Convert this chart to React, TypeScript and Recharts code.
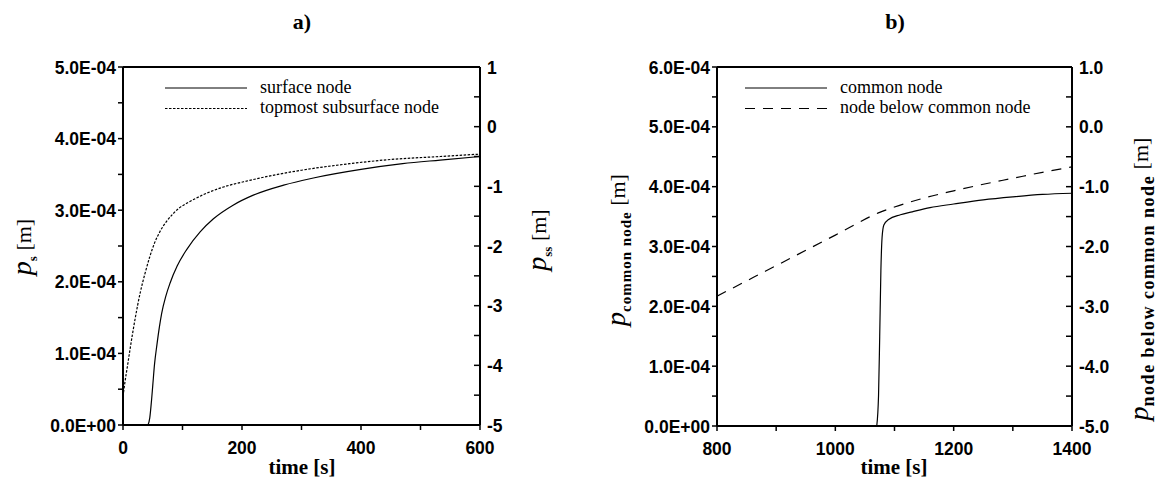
import React from 'react'
import { LineChart, Line, XAxis, YAxis, Legend, ReferenceLine } from 'recharts'

// a) surface node, pressure head p_s [m] (left axis)
const surfaceTime = [42, 45, 48, 50, 53, 57, 61, 65, 72, 79, 91, 107, 130, 152, 185, 219, 270, 320, 400, 470, 533, 600]
const surfaceHead = [0, 0.1e-4, 0.35e-4, 0.55e-4, 0.85e-4, 1.12e-4, 1.36e-4, 1.56e-4, 1.8e-4, 1.98e-4, 2.22e-4, 2.45e-4, 2.7e-4, 2.88e-4, 3.07e-4, 3.21e-4, 3.35e-4, 3.45e-4, 3.57e-4, 3.65e-4, 3.7e-4, 3.75e-4]

// a) topmost subsurface node, p_ss [m] (right axis)
const subTime = [0, 3, 8, 12, 20, 29, 37, 45, 53, 62, 73, 84, 95, 108, 135, 163, 213, 260, 300, 381, 450, 533, 600]
const subHead = [-4.52, -4.3, -3.98, -3.72, -3.24, -2.78, -2.46, -2.18, -1.95, -1.76, -1.59, -1.46, -1.36, -1.28, -1.14, -1.03, -0.9, -0.8, -0.73, -0.62, -0.55, -0.5, -0.46]

// b) common node (left axis)
const commonTime = [1070, 1073, 1075, 1077, 1079, 1082, 1090, 1110, 1130, 1160, 1200, 1250, 1300, 1350, 1400]
const commonHead = [0, 0.5e-4, 1.5e-4, 2.6e-4, 3.15e-4, 3.36e-4, 3.45e-4, 3.53e-4, 3.58e-4, 3.65e-4, 3.71e-4, 3.78e-4, 3.83e-4, 3.87e-4, 3.89e-4]

// b) node below common node (right axis)
const belowTime = [800, 900, 1000, 1075, 1100, 1150, 1200, 1250, 1300, 1350, 1400]
const belowHead = [-2.83, -2.32, -1.81, -1.43, -1.34, -1.19, -1.07, -0.96, -0.86, -0.76, -0.67]

// ticks (minor ones get a tick mark only)
const ticksTimeA = [0, 100, 200, 300, 400, 500, 600]
const ticksTimeB = [800, 900, 1000, 1100, 1200, 1300, 1400]
const ticksHeadA = [0, 0.5e-4, 1e-4, 1.5e-4, 2e-4, 2.5e-4, 3e-4, 3.5e-4, 4e-4, 4.5e-4, 5e-4]
const ticksHeadB = [0, 0.5e-4, 1e-4, 1.5e-4, 2e-4, 2.5e-4, 3e-4, 3.5e-4, 4e-4, 4.5e-4, 5e-4, 5.5e-4, 6e-4]
const ticksRight = [-5, -4.5, -4, -3.5, -3, -2.5, -2, -1.5, -1, -0.5, 0, 0.5, 1]

const legendA = [
  { name: 'surface node', dash: undefined },
  { name: 'topmost subsurface node', dash: '2.5 1.5' },
]
const legendB = [
  { name: 'common node', dash: undefined },
  { name: 'node below common node', dash: '10 8' },
]

const toPts = (ts: number[], vs: number[]) => ts.map((t, i) => ({ t, v: vs[i] }))

const sans = '"Liberation Sans", Arial, sans-serif'
const serif = '"Liberation Serif", "Times New Roman", serif'
const tickSize = 17.5

const isMajor = (v: number, step: number) => Math.abs(v / step - Math.round(v / step)) < 1e-6

const sci = (v: number) => {
  if (v === 0) return '0.0E+00'
  const e = Math.floor(Math.log10(Math.abs(v)) + 1e-9)
  const m = v / Math.pow(10, e)
  const ee = String(Math.abs(e)).padStart(2, '0')
  return `${m.toFixed(1)}E${e < 0 ? '-' : '+'}${ee}`
}

const LeftTick = (p: any) => {
  const v = p.payload.value
  if (!isMajor(v, 1e-4)) return <g />
  return (
    <text x={p.x} y={p.y} dy="0.38em" textAnchor="end" fontFamily={sans} fontWeight={700} fontSize={tickSize} fill="#000">
      {sci(v)}
    </text>
  )
}

const BottomTick = (p: any) => {
  const v = p.payload.value
  if (!isMajor(v, 200)) return <g />
  return (
    <text x={p.x} y={p.y} dy="0.71em" textAnchor="middle" fontFamily={sans} fontWeight={700} fontSize={tickSize} fill="#000">
      {v}
    </text>
  )
}

const rightTick = (digits: number) => (p: any) => {
  const v = p.payload.value
  return (
    <g>
      <line x1={p.x - 7} x2={p.x - 13} y1={p.y} y2={p.y} stroke="#000" strokeWidth={1.5} />
      {isMajor(v, 1) && (
        <text x={p.x} y={p.y} dy="0.38em" textAnchor="start" fontFamily={sans} fontWeight={700} fontSize={tickSize} fill="#000">
          {v.toFixed(digits)}
        </text>
      )}
    </g>
  )
}

const LegendBox = ({ items }: { items: { name: string; dash?: string }[] }) => (
  <svg width={330} height={48}>
    {items.map((it, i) => (
      <g key={it.name}>
        <line x1={5} x2={87} y1={12 + i * 20.5} y2={12 + i * 20.5} stroke="#000" strokeWidth={1} strokeDasharray={it.dash} />
        <text x={100} y={17 + i * 20} fontFamily={serif} fontSize={18} fill="#000">
          {it.name}
        </text>
      </g>
    ))}
  </svg>
)

const axisLine = { stroke: '#000', strokeWidth: 2 }
const tickLine = { stroke: '#000', strokeWidth: 1.5 }

function Panel({ width, leftW, rightW, xH, xTicks, xDomain, yTicks, yDomain, rightDigits, solid, dashed, dash, legend }: any) {
  return (
    <LineChart width={width} height={481} margin={{ top: 67, right: 0, bottom: 0, left: 0 }}>
      <XAxis dataKey="t" type="number" domain={xDomain} ticks={xTicks} interval={0} allowDataOverflow
        height={xH} tickSize={5} tickMargin={12} axisLine={axisLine} tickLine={tickLine} tick={BottomTick} />
      <YAxis yAxisId="left" type="number" domain={yDomain} ticks={yTicks} interval={0} allowDataOverflow
        width={leftW} tickSize={5} tickMargin={2} axisLine={axisLine} tickLine={tickLine} tick={LeftTick} />
      <YAxis yAxisId="right" orientation="right" type="number" domain={[-5, 1]} ticks={ticksRight} interval={0}
        allowDataOverflow width={rightW} tickSize={0} tickMargin={7} axisLine={axisLine} tickLine={false}
        tick={rightTick(rightDigits)} />
      <ReferenceLine yAxisId="left" y={yDomain[1]} stroke="#000" strokeWidth={2} />
      <Legend layout="vertical" align="center" verticalAlign="middle"
        wrapperStyle={{ left: 160, top: 76, width: 330 }} content={() => <LegendBox items={legend} />} />
      <Line data={solid} dataKey="v" yAxisId="left" type="monotone" stroke="#000" strokeWidth={1.2}
        dot={false} isAnimationActive={false} />
      <Line data={dashed} dataKey="v" yAxisId="right" type="monotone" stroke="#000" strokeWidth={1.2}
        strokeDasharray={dash} dot={false} isAnimationActive={false} />
    </LineChart>
  )
}

const YLabel = ({ x, y, sub, subSize, spacing = 0 }: { x: number; y: number; sub: string; subSize: number; spacing?: number }) => (
  <text x={x} y={y} transform={`rotate(-90 ${x} ${y})`} textAnchor="middle" fontFamily={serif} fill="#000">
    <tspan fontStyle="italic" fontSize={28}>p</tspan>
    <tspan fontSize={subSize} fontWeight={700} dy={6} letterSpacing={spacing}>{sub}</tspan>
    <tspan fontSize={22} dy={-6}> [m]</tspan>
  </text>
)

export default function App() {
  return (
    <div style={{ position: 'absolute', left: 0, top: 0, width: 1159, height: 481, background: '#fff' }}>
      <div style={{ position: 'absolute', left: 0, top: 0 }}>
        <Panel width={520} leftW={123} rightW={40} xH={56} xTicks={ticksTimeA} xDomain={[0, 600]}
          yTicks={ticksHeadA} yDomain={[0, 5e-4]} rightDigits={0}
          solid={toPts(surfaceTime, surfaceHead)} dashed={toPts(subTime, subHead)} dash="2.5 1.5" legend={legendA} />
      </div>
      <div style={{ position: 'absolute', left: 580, top: 0 }}>
        <Panel width={579} leftW={137} rightW={87} xH={55} xTicks={ticksTimeB} xDomain={[800, 1400]}
          yTicks={ticksHeadB} yDomain={[0, 6e-4]} rightDigits={1}
          solid={toPts(commonTime, commonHead)} dashed={toPts(belowTime, belowHead)} dash="10 8" legend={legendB} />
      </div>
      <svg width={1159} height={481} style={{ position: 'absolute', left: 0, top: 0, pointerEvents: 'none' }}>
        <text x={302} y={29} textAnchor="middle" fontFamily={serif} fontWeight={700} fontSize={22}>a)</text>
        <text x={895} y={29} textAnchor="middle" fontFamily={serif} fontWeight={700} fontSize={22}>b)</text>
        <text x={302} y={474} textAnchor="middle" fontFamily={serif} fontWeight={700} fontSize={21}>time [s]</text>
        <text x={894} y={474} textAnchor="middle" fontFamily={serif} fontWeight={700} fontSize={21}>time [s]</text>
        <YLabel x={31} y={247} sub="s" subSize={13} />
        <YLabel x={546} y={240} sub="ss" subSize={13} />
        <YLabel x={625} y={250} sub="common node" subSize={15} spacing={1} />
        <YLabel x={1148} y={279} sub="node below common node" subSize={18} spacing={1.5} />
      </svg>
    </div>
  )
}
